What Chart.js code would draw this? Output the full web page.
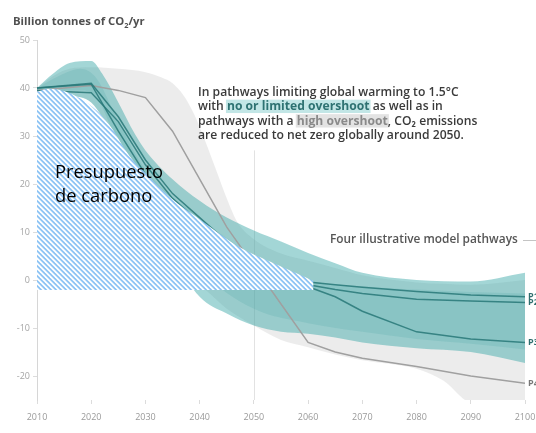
<!DOCTYPE html>
<html>
<head>
<meta charset="utf-8">
<script src="https://cdn.jsdelivr.net/npm/chart.js@4.4.1/dist/chart.umd.min.js"></script>
<style>
  html, body { margin: 0; padding: 0; background: #fff; }
  canvas { display: block; }
</style>
</head>
<body>
<canvas id="c" width="536" height="433"></canvas>
<script>
// Axis ticks
const xTicks = [2010, 2020, 2030, 2040, 2050, 2060, 2070, 2080, 2090, 2100];
const yTicks = [-20, -10, 0, 10, 20, 30, 40, 50];

// Range of pathways with no or limited overshoot (Gt CO2/yr)
const tealYears = [2010, 2013, 2016, 2020, 2022, 2025, 2028, 2030, 2035, 2040, 2045, 2050, 2055, 2060, 2065, 2070, 2080, 2090, 2100];
const tealUpper = [40, 43, 45.2, 45.6, 43, 37, 30.5, 27, 21, 16.5, 13, 10.3, 8, 5.6, 3.5, 1.5, 0, -0.3, 1.5];
const tealLower = [39.5, 39, 38.5, 37, 34, 28, 20, 15, 5, -3.5, -7, -9.5, -10.8, -11.2, -12, -13, -14.2, -15, -17.3];

// Denser core of the same range
const coreYears = [2010, 2014, 2018, 2021, 2025, 2030, 2040, 2050, 2060, 2070, 2080, 2090, 2100];
const coreUpper = [40, 42.5, 44, 42, 33, 23, 13, 5, 0, -1.3, -2, -2.5, -2.8];
const coreLower = [39.5, 39.5, 39.5, 38, 28, 16, 2, -6, -9, -10.8, -12.3, -13.3, -14.5];

// Range of pathways with high overshoot
const grayYears = [2010, 2013, 2016, 2020, 2025, 2030, 2033, 2035, 2037, 2039, 2041, 2043, 2045, 2047, 2050, 2055, 2060, 2065, 2070, 2080, 2085, 2090, 2100];
const grayUpper = [40, 42.5, 44, 44.3, 44, 43.3, 42.2, 41, 38.5, 34.5, 29, 23, 17, 12, 8.5, 5.5, 4, 2.5, 1, -0.5, -0.8, -1, 0];
const grayLower = [39.5, 39, 38.5, 37, 28, 15, 8, 5, 2, 0, -2, -4, -6, -7.5, -9.5, -12.5, -14, -15.5, -16.7, -18.5, -21, -25.5, -26];

// Four illustrative model pathways
const pathYears = [2010, 2020, 2025, 2030, 2035, 2040, 2045, 2050, 2055, 2060, 2065, 2070, 2080, 2090, 2100];
const p1 = [40, 40.8, 31, 22, 16, 11, 6, 2.5, 0.5, -0.4, -1, -1.5, -2.4, -3.1, -3.5];
const p2 = [40, 41, 34, 25, 18, 13, 8, 3.5, 0.5, -1, -2, -2.8, -4, -4.4, -4.7];
const p3 = [39.5, 39, 33, 24, 17, 12, 7, 3, 0.5, -1.4, -3.5, -6.5, -10.8, -12.3, -13];
const p4 = [39.5, 40.5, 39.5, 38, 31, 21, 11, 3, -5, -13, -15, -16.3, -18, -20, -21.5];
const pathNames = ['P1', 'P2', 'P3', 'P4'];

// Carbon budget area (upper edge, lower edge value)
const budgetYears = [2010, 2012, 2015, 2018, 2021, 2024, 2026, 2028, 2030, 2033, 2036, 2039, 2042, 2047, 2052, 2057, 2061];
const budgetTop = [39.2, 39.8, 39.4, 37.8, 35.3, 31.3, 27.6, 24.5, 22.3, 18.8, 15.9, 13.5, 11, 7.1, 4.3, 1.8, -0.2];
const budgetBase = -2.1;

const pts = (xs, ys) => xs.map((x, i) => ({ x, y: ys[i] }));

// Diagonal blue/white stripe pattern for the budget area
function stripePattern() {
  const s = 5;
  const c = document.createElement('canvas');
  c.width = s; c.height = s;
  const g = c.getContext('2d');
  g.fillStyle = '#ffffff';
  g.fillRect(0, 0, s, s);
  g.fillStyle = '#8ac2f4';
  const w = 2.4;
  for (let k = -1; k <= 1; k++) {
    const o = k * s;
    g.beginPath();
    g.moveTo(o, 0);
    g.lineTo(o + w, 0);
    g.lineTo(o + w + s, s);
    g.lineTo(o + s, s);
    g.closePath();
    g.fill();
  }
  return g.createPattern(c, 'repeat');
}

const BAND_TEAL = 'rgba(55,165,165,0.46)';
const BAND_CORE = 'rgba(40,150,150,0.14)';
const BAND_GRAY = 'rgba(185,185,185,0.28)';
const LINE_TEAL = 'rgba(40,120,120,0.85)';
const LINE_GRAY = '#a0a0a0';

const bandBase = { pointRadius: 0, borderWidth: 0, cubicInterpolationMode: 'monotone' };
const lineBase = { pointRadius: 0, borderWidth: 1.5, tension: 0, fill: false };

const datasets = [
  { ...bandBase, label: 'budget', data: pts(budgetYears, budgetTop), fill: { value: budgetBase }, backgroundColor: stripePattern() },
  { ...lineBase, label: 'P1', data: pts(pathYears, p1), borderColor: LINE_TEAL },
  { ...lineBase, label: 'P2', data: pts(pathYears, p2), borderColor: LINE_TEAL },
  { ...lineBase, label: 'P3', data: pts(pathYears, p3), borderColor: LINE_TEAL },
  { ...lineBase, label: 'P4', data: pts(pathYears, p4), borderColor: LINE_GRAY },
  { ...bandBase, label: 'coreUp', data: pts(coreYears, coreUpper), fill: '+1', backgroundColor: BAND_CORE },
  { ...bandBase, label: 'coreLow', data: pts(coreYears, coreLower), fill: false },
  { ...bandBase, label: 'tealUp', data: pts(tealYears, tealUpper), fill: '+1', backgroundColor: BAND_TEAL },
  { ...bandBase, label: 'tealLow', data: pts(tealYears, tealLower), fill: false },
  { ...bandBase, label: 'grayUp', data: pts(grayYears, grayUpper), fill: '+1', backgroundColor: BAND_GRAY },
  { ...bandBase, label: 'grayLow', data: pts(grayYears, grayLower), fill: false }
];

const FONT = '"Open Sans", "DejaVu Sans", sans-serif';

function fitFont(ctx, text, weight, family, targetWidth) {
  ctx.font = `${weight} 20px ${family}`;
  const w = ctx.measureText(text).width;
  return 20 * targetWidth / w;
}

// Reference line at 2050 drawn beneath the bands
const guidePlugin = {
  id: 'guide',
  beforeDatasetsDraw(chart) {
    const { ctx, scales: { x, y } } = chart;
    const px = Math.round(x.getPixelForValue(2050)) + 0.5;
    ctx.save();
    ctx.strokeStyle = '#e2e2e2';
    ctx.lineWidth = 1;
    ctx.beginPath();
    ctx.moveTo(px, y.getPixelForValue(27));
    ctx.lineTo(px, y.getPixelForValue(-25));
    ctx.stroke();
    ctx.restore();
  }
};

// Titles, notes and pathway labels
const textPlugin = {
  id: 'texts',
  afterDraw(chart) {
    const { ctx, scales: { x, y } } = chart;
    ctx.save();
    ctx.textBaseline = 'alphabetic';
    ctx.textAlign = 'left';

    // Axis title with subscript
    let fs = fitFont(ctx, 'Billion tonnes of CO2/yr', 700, FONT, 134);
    ctx.font = `700 ${fs}px ${FONT}`;
    ctx.fillStyle = '#505050';
    let tx = 13;
    const t1 = 'Billion tonnes of CO';
    ctx.fillText(t1, tx, 25);
    tx += ctx.measureText(t1).width;
    ctx.font = `700 ${fs * 0.65}px ${FONT}`;
    ctx.fillText('2', tx, 28);
    tx += ctx.measureText('2').width;
    ctx.font = `700 ${fs}px ${FONT}`;
    ctx.fillText('/yr', tx, 25);

    // Note paragraph
    const lines = [
      [['In pathways limiting global warming to 1.5°C', 'n']],
      [['with ', 'n'], ['no or limited overshoot', 't'], [' as well as in', 'n']],
      [['pathways with a ', 'n'], ['high overshoot', 'g'], [', CO₂ emissions', 'n']],
      [['are reduced to net zero globally around 2050.', 'n']]
    ];
    const pf = fitFont(ctx, lines[0][0][0], 600, FONT, 261);
    const baselines = [95.5, 110, 124.5, 139];
    lines.forEach((runs, i) => {
      let cx = 198;
      const by = baselines[i];
      runs.forEach(([txt, st]) => {
        ctx.font = `${st === 'n' ? 600 : 700} ${pf}px ${FONT}`;
        const w = ctx.measureText(txt).width;
        if (st === 't') {
          ctx.fillStyle = 'rgba(120,200,200,0.45)';
          ctx.fillRect(cx - 1, by - pf * 0.85, w + 2, pf * 1.1);
          ctx.fillStyle = '#2e7272';
        } else if (st === 'g') {
          ctx.fillStyle = '#e3e3e3';
          ctx.fillRect(cx - 1, by - pf * 0.85, w + 2, pf * 1.1);
          ctx.fillStyle = '#8a8a8a';
        } else {
          ctx.fillStyle = '#3a3a3a';
        }
        ctx.fillText(txt, cx, by);
        cx += w;
      });
    });

    // Pathways heading with leader line
    const hf = fitFont(ctx, 'Four illustrative model pathways', 600, FONT, 188);
    ctx.font = `600 ${hf}px ${FONT}`;
    ctx.fillStyle = '#555';
    ctx.fillText('Four illustrative model pathways', 330, 243);
    ctx.strokeStyle = '#c4c4c4';
    ctx.lineWidth = 1;
    ctx.beginPath();
    ctx.moveTo(523, 240.5);
    ctx.lineTo(536, 240.5);
    ctx.stroke();

    // End labels for the illustrative pathways
    const series = [p1, p2, p3, p4];
    ctx.font = `700 9px ${FONT}`;
    ctx.textBaseline = 'middle';
    series.forEach((s, i) => {
      ctx.fillStyle = i < 3 ? '#2e6e6e' : '#777';
      const yy = y.getPixelForValue(s[s.length - 1]);
      ctx.fillText(pathNames[i], 528, yy);
    });

    // Budget label
    ctx.textBaseline = 'alphabetic';
    const bf = fitFont(ctx, 'Presupuesto', 400, FONT, 108);
    ctx.font = `400 ${bf}px ${FONT}`;
    ctx.fillStyle = '#000';
    ctx.fillText('Presupuesto', 55, 178);
    ctx.fillText('de carbono', 55, 202);
    ctx.restore();
  }
};

new Chart(document.getElementById('c'), {
  type: 'line',
  data: { datasets },
  options: {
    responsive: false,
    animation: false,
    layout: { padding: { top: 40, right: 11, left: 0, bottom: 0 } },
    plugins: {
      legend: { display: false },
      tooltip: { enabled: false },
      filler: { propagate: false }
    },
    scales: {
      x: {
        type: 'linear',
        min: 2010,
        max: 2100,
        afterBuildTicks: (s) => { s.ticks = xTicks.map(v => ({ value: v })); },
        afterFit: (s) => { s.height = 33; s.paddingLeft = 0; s.paddingRight = 0; },
        border: { display: false },
        grid: { drawOnChartArea: false, drawTicks: true, tickLength: 4, color: '#dcdcdc' },
        ticks: {
          color: '#9a9a9a',
          padding: 8,
          maxRotation: 0,
          autoSkip: false,
          font: { family: FONT, size: 9 },
          callback: (v) => String(v)
        }
      },
      y: {
        type: 'linear',
        min: -25,
        max: 50,
        afterBuildTicks: (s) => { s.ticks = yTicks.map(v => ({ value: v })); },
        afterFit: (s) => { s.width = 37; s.paddingTop = 0; s.paddingBottom = 0; },
        border: { display: true, color: '#d6d6d6', width: 1 },
        grid: { drawOnChartArea: false, drawTicks: true, tickLength: 4, color: '#dcdcdc' },
        ticks: {
          color: '#a5a5a5',
          padding: 3,
          font: { family: FONT, size: 9 },
          callback: (v) => String(v)
        }
      }
    }
  },
  plugins: [guidePlugin, textPlugin]
});
</script>
</body>
</html>
